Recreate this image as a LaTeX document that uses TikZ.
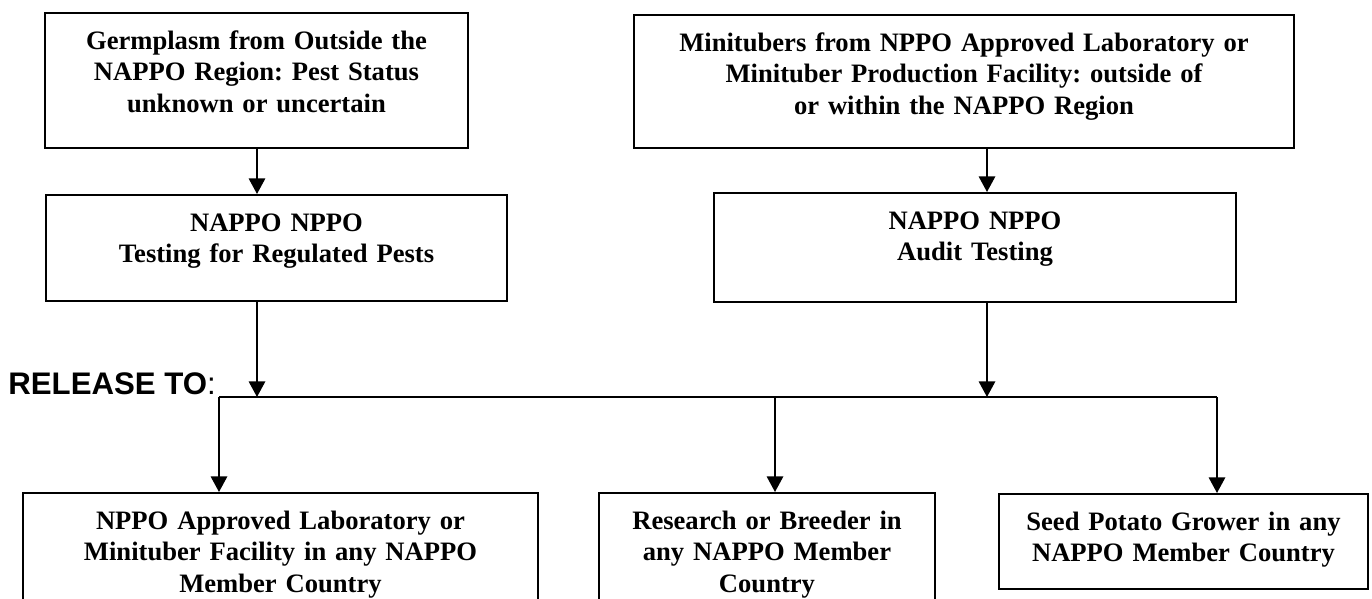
\documentclass[tikz,border=0pt]{standalone}
\usepackage{fontspec}
\setmainfont{Liberation Serif}
\newfontfamily\headfont{Liberation Sans}
\usetikzlibrary{arrows.meta}
\frenchspacing
\tikzset{
  >={Triangle[length=7.8pt,width=8.2pt]},
  box/.style={draw,line width=1.1pt,anchor=north,inner sep=0pt,align=center,text height=18pt,font=\bfseries\fontsize{13.3}{15.85}\selectfont},
  flow/.style={->,line width=0.9pt},
  bus/.style={line width=0.9pt},
  label/.style={anchor=base west,inner sep=0pt,font=\headfont\fontsize{15.6}{18}\selectfont}
}

\begin{document}
\begin{tikzpicture}[x=0.5pt,y=-0.5pt]
  \useasboundingbox (0,0) rectangle (1372,599);
  \node[box,text width=211.5pt,text depth=49.5pt] (germ) at (256.5,12) {Germplasm from Outside the\\NAPPO Region: Pest Status\\unknown or uncertain};
  \node[box,text width=230.5pt,text depth=35pt] (test) at (276.5,194) {NAPPO NPPO\\Testing for Regulated Pests};
  \node[box,text width=330pt,text depth=48.5pt] (mini) at (964,14) {Minitubers from NPPO Approved Laboratory or\\Minituber Production Facility: outside of\\or within the NAPPO Region};
  \node[box,text width=261pt,text depth=36.5pt] (audit) at (975,192) {NAPPO NPPO\\Audit Testing};
  \node[box,text width=257.5pt,text depth=60pt] (lab) at (280.5,492) {NPPO Approved Laboratory or\\Minituber Facility in any NAPPO\\Member Country};
  \node[box,text width=168pt,text depth=60pt] (res) at (767,492) {Research or Breeder in\\any NAPPO Member\\Country};
  \node[box,text width=184.5pt,text depth=29.5pt] (grow) at (1183.5,493) {Seed Potato Grower in any\\NAPPO Member Country};
  \node[label] (rel) at (8,394) {\textbf{RELEASE TO}:};
  \coordinate (tapL) at (257,397);
  \coordinate (tapR) at (987,397);
  \coordinate (busW) at (219,397);
  \coordinate (busM) at (775,397);
  \coordinate (busE) at (1217,397);
  \draw[flow] (germ.south -| tapL) -- (test.north -| tapL);
  \draw[flow] (test.south -| tapL) -- (tapL);
  \draw[flow] (mini.south -| tapR) -- (audit.north -| tapR);
  \draw[flow] (audit.south -| tapR) -- (tapR);
  \draw[bus] (busW) -- (busE);
  \foreach \c/\n in {busW/lab,busM/res,busE/grow}{\draw[flow] (\c) -- (\n.north -| \c);}
\end{tikzpicture}
\end{document}
